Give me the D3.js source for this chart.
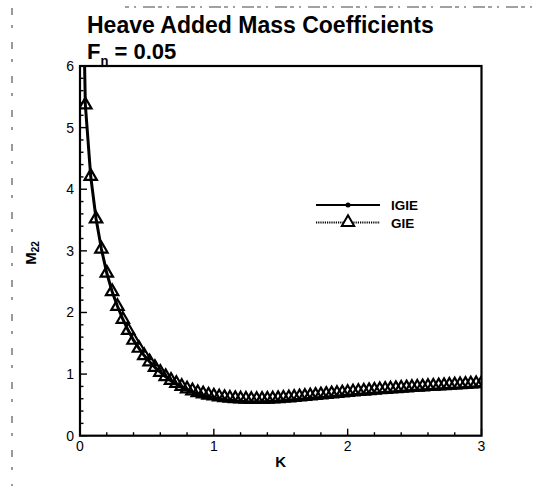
<!DOCTYPE html>
<html>
<head>
<meta charset="utf-8">
<script src="https://cdn.jsdelivr.net/npm/d3@7"></script>
<style>
  body { margin: 0; background: #fff; }
  text { font-family: "Liberation Sans", Arial, sans-serif; fill: #000; }
</style>
</head>
<body>
<div id="chart"></div>
<script>
// wave number K and heave added mass coefficient M22
const igieK = [0.02, 0.04, 0.08, 0.12, 0.16, 0.20, 0.24, 0.28, 0.32, 0.36, 0.40, 0.44, 0.48, 0.52, 0.56, 0.60,
  0.64, 0.68, 0.72, 0.76, 0.80, 0.84, 0.88, 0.92, 0.96, 1.00, 1.04, 1.08, 1.12, 1.16, 1.20, 1.24, 1.28, 1.32,
  1.36, 1.40, 1.44, 1.48, 1.52, 1.56, 1.60, 1.64, 1.68, 1.72, 1.76, 1.80, 1.84, 1.88, 1.92, 1.96, 2.00, 2.04,
  2.08, 2.12, 2.16, 2.20, 2.24, 2.28, 2.32, 2.36, 2.40, 2.44, 2.48, 2.52, 2.56, 2.60, 2.64, 2.68, 2.72, 2.76,
  2.80, 2.84, 2.88, 2.92, 2.96, 3.00];
const igieM = [7.6, 5.37, 4.21, 3.52, 3.03, 2.64, 2.34, 2.10, 1.89, 1.71, 1.55, 1.42, 1.30, 1.20, 1.11, 1.03,
  0.955, 0.89, 0.835, 0.785, 0.745, 0.71, 0.68, 0.655, 0.635, 0.615, 0.60, 0.588, 0.577, 0.568, 0.561, 0.556,
  0.553, 0.552, 0.553, 0.556, 0.560, 0.565, 0.571, 0.578, 0.585, 0.592, 0.600, 0.607, 0.615, 0.622, 0.630,
  0.637, 0.645, 0.652, 0.659, 0.666, 0.673, 0.680, 0.686, 0.693, 0.699, 0.705, 0.711, 0.717, 0.723, 0.729,
  0.734, 0.740, 0.745, 0.750, 0.755, 0.760, 0.765, 0.770, 0.775, 0.780, 0.784, 0.789, 0.793, 0.798];

const gieK = [0.04, 0.08, 0.12, 0.16, 0.20, 0.24, 0.28, 0.32, 0.36, 0.40, 0.44, 0.48, 0.52, 0.56, 0.60,
  0.64, 0.68, 0.72, 0.76, 0.80, 0.84, 0.88, 0.92, 0.96, 1.00, 1.04, 1.08, 1.12, 1.16, 1.20, 1.24, 1.28, 1.32,
  1.36, 1.40, 1.44, 1.48, 1.52, 1.56, 1.60, 1.64, 1.68, 1.72, 1.76, 1.80, 1.84, 1.88, 1.92, 1.96, 2.00, 2.04,
  2.08, 2.12, 2.16, 2.20, 2.24, 2.28, 2.32, 2.36, 2.40, 2.44, 2.48, 2.52, 2.56, 2.60, 2.64, 2.68, 2.72, 2.76,
  2.80, 2.84, 2.88, 2.92, 2.96, 3.00];
const gieM = [5.37, 4.21, 3.52, 3.03, 2.64, 2.34, 2.10, 1.89, 1.71, 1.55, 1.42, 1.30, 1.20, 1.11, 1.03,
  0.96, 0.90, 0.85, 0.80, 0.76, 0.73, 0.70, 0.68, 0.66, 0.645, 0.63, 0.62, 0.61, 0.603, 0.597, 0.593, 0.59,
  0.59, 0.591, 0.594, 0.598, 0.603, 0.609, 0.616, 0.624, 0.632, 0.640, 0.648, 0.656, 0.664, 0.672, 0.680,
  0.688, 0.696, 0.704, 0.712, 0.719, 0.726, 0.733, 0.740, 0.747, 0.754, 0.760, 0.766, 0.772, 0.778, 0.784,
  0.789, 0.795, 0.800, 0.805, 0.810, 0.815, 0.820, 0.825, 0.830, 0.835, 0.840, 0.845, 0.850];

const xTicks = [0, 1, 2, 3];
const yTicks = [0, 1, 2, 3, 4, 5, 6];
const seriesNames = ["IGIE", "GIE"];

const width = 539, height = 486;
const margin = {top: 66, right: 57.5, bottom: 50.3, left: 80};

const svg = d3.select("#chart").append("svg")
    .attr("width", width)
    .attr("height", height);

const x = d3.scaleLinear().domain([0, 3]).range([margin.left, width - margin.right]);
const y = d3.scaleLinear().domain([0, 6]).range([height - margin.bottom, margin.top]);

// scan artefacts at the page edge
svg.append("line")
    .attr("x1", 12).attr("x2", 12).attr("y1", 8).attr("y2", 486)
    .attr("stroke", "#555").attr("stroke-width", 1.2)
    .attr("stroke-dasharray", "7,10,3,14");
svg.append("line")
    .attr("x1", 125).attr("x2", 539).attr("y1", 7).attr("y2", 7)
    .attr("stroke", "#444").attr("stroke-width", 1.2)
    .attr("stroke-dasharray", "4,5,2,7,12,3");

svg.append("defs").append("clipPath").attr("id", "plotClip")
  .append("rect")
    .attr("x", x(0)).attr("y", y(6))
    .attr("width", x(3) - x(0)).attr("height", y(0) - y(6));

// minor + major ticks, pointing into the plot
const xMinor = d3.range(0, 3.001, 0.2);
const yMinor = d3.range(0, 6.001, 0.2);

svg.append("g").selectAll("line")
    .data(xMinor)
    .join("line")
    .attr("x1", d => x(d)).attr("x2", d => x(d))
    .attr("y1", y(0)).attr("y2", d => y(0) - (Math.abs(d - Math.round(d)) < 1e-6 ? 7 : 3.5))
    .attr("stroke", "#000").attr("stroke-width", 1.4);

svg.append("g").selectAll("line")
    .data(yMinor)
    .join("line")
    .attr("y1", d => y(d)).attr("y2", d => y(d))
    .attr("x1", x(0)).attr("x2", d => x(0) + (Math.abs(d - Math.round(d)) < 1e-6 ? 7 : 3.5))
    .attr("stroke", "#000").attr("stroke-width", 1.4);

// tick labels
svg.append("g").selectAll("text")
    .data(xTicks)
    .join("text")
    .attr("x", d => x(d))
    .attr("y", y(0) + 15)
    .attr("text-anchor", "middle")
    .attr("font-size", 14)
    .text(d => d);

svg.append("g").selectAll("text")
    .data(yTicks)
    .join("text")
    .attr("x", x(0) - 6)
    .attr("y", d => y(d) + 5)
    .attr("text-anchor", "end")
    .attr("font-size", 14)
    .text(d => d);

// curves
const plot = svg.append("g").attr("clip-path", "url(#plotClip)");

const line = d3.line()
    .x(d => x(d[0]))
    .y(d => y(d[1]));

plot.append("path")
    .datum(igieK.map((k, i) => [k, igieM[i]]))
    .attr("d", line)
    .attr("fill", "none")
    .attr("stroke", "#000")
    .attr("stroke-width", 3);

const tri = d3.symbol().type(d3.symbolTriangle).size(66);

plot.append("g").selectAll("path")
    .data(gieK.map((k, i) => [k, gieM[i]]))
    .join("path")
    .attr("d", tri)
    .attr("transform", d => `translate(${x(d[0])},${y(d[1])})`)
    .attr("fill", "none")
    .attr("stroke", "#000")
    .attr("stroke-width", 2.2);

// frame
svg.append("rect")
    .attr("x", x(0)).attr("y", y(6))
    .attr("width", x(3) - x(0)).attr("height", y(0) - y(6))
    .attr("fill", "none")
    .attr("stroke", "#000")
    .attr("stroke-width", 2.2);

// axis titles
svg.append("text")
    .attr("x", x(1.5))
    .attr("y", y(0) + 31)
    .attr("text-anchor", "middle")
    .attr("font-size", 15)
    .attr("font-weight", "bold")
    .text("K");

const yLab = svg.append("text")
    .attr("transform", `translate(36,${(y(0) + y(6)) / 2 + 14}) rotate(-90)`)
    .attr("font-size", 15)
    .attr("font-weight", "bold");
yLab.append("tspan").text("M");
yLab.append("tspan").attr("font-size", 10).attr("dy", 3).text("22");

// title
svg.append("text")
    .attr("x", 87)
    .attr("y", 33)
    .attr("font-size", 23)
    .attr("font-weight", "bold")
    .text("Heave Added Mass Coefficients");

const sub = svg.append("text")
    .attr("x", 87)
    .attr("y", 59)
    .attr("font-size", 22)
    .attr("font-weight", "bold");
sub.append("tspan").text("F");
sub.append("tspan").attr("font-size", 13).attr("dy", 6).text("n");
sub.append("tspan").attr("dy", -6).text(" = 0.05");

// legend
const legend = svg.append("g").attr("transform", "translate(316,205)");
const rows = legend.selectAll("g")
    .data(seriesNames)
    .join("g")
    .attr("transform", (d, i) => `translate(0,${i * 17.5})`);

rows.append("line")
    .attr("x1", 0).attr("x2", 64)
    .attr("stroke", "#000")
    .attr("stroke-width", 2.2)
    .attr("stroke-dasharray", (d, i) => i === 0 ? null : "1.2,1");

rows.filter((d, i) => i === 0).append("circle")
    .attr("cx", 32).attr("r", 2.5).attr("fill", "#000");

rows.filter((d, i) => i === 1).append("path")
    .attr("d", d3.symbol().type(d3.symbolTriangle).size(66))
    .attr("transform", "translate(32,0)")
    .attr("fill", "#fff")
    .attr("stroke", "#000")
    .attr("stroke-width", 2);

rows.append("text")
    .attr("x", 75)
    .attr("y", 5)
    .attr("font-size", 13.5)
    .attr("font-weight", "bold")
    .text(d => d);
</script>
</body>
</html>
